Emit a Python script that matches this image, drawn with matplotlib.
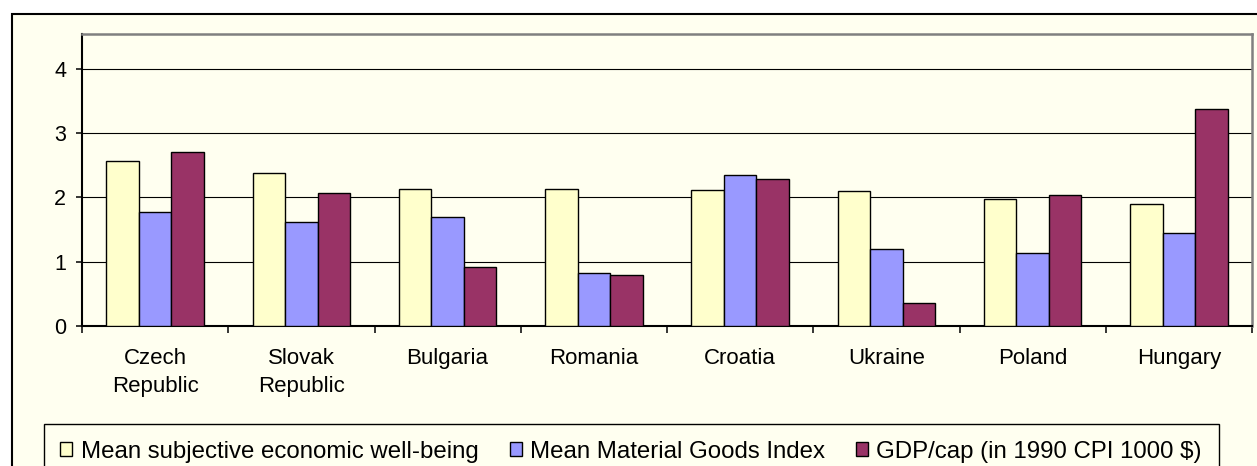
import matplotlib.pyplot as plt
from matplotlib.patches import Rectangle, Patch
import numpy as np

plt.rcParams['font.family'] = ['Liberation Sans', 'DejaVu Sans']

# ---- data ----
countries = ["Czech\nRepublic", "Slovak\nRepublic", "Bulgaria", "Romania",
             "Croatia", "Ukraine", "Poland", "Hungary"]
wellbeing = [2.57, 2.38, 2.13, 2.13, 2.11, 2.10, 1.97, 1.89]
material = [1.77, 1.61, 1.70, 0.83, 2.35, 1.20, 1.14, 1.45]
gdp = [2.70, 2.07, 0.92, 0.80, 2.29, 0.36, 2.04, 3.38]

series = [wellbeing, material, gdp]
names = ["Mean subjective economic well-being",
         "Mean Material Goods Index",
         "GDP/cap (in 1990 CPI 1000 $)"]
cols = ["#FFFFCC", "#9999FF", "#993366"]

cream = "#FFFFF0"
W, H = 1257, 466

fig = plt.figure(figsize=(W / 100, H / 100), dpi=100)
fig.patch.set_facecolor("white")

# outer chart frame (cut off at right and bottom)
fig.add_artist(Rectangle((12 / W, -0.1), 1.2, 1 - 14 / H + 0.1,
                         transform=fig.transFigure, facecolor=cream,
                         edgecolor="black", linewidth=1.5, zorder=0))

ax = fig.add_axes([82 / W, 1 - 326 / H, 1170 / W, 292 / H])
ax.set_facecolor(cream)

x = np.arange(len(countries))
bw = 1 / 4.5
for i in range(3):
    ax.bar(x + (i - 1) * bw, series[i], width=bw, color=cols[i],
           edgecolor="black", linewidth=1.0, zorder=3)

ax.set_xlim(-0.5, len(countries) - 0.5)
ax.set_ylim(0, 4.54)
ax.set_yticks([0, 1, 2, 3, 4])
ax.set_yticklabels(["0", "1", "2", "3", "4"], fontsize=15.5)
ax.yaxis.grid(True, color="black", linewidth=0.8)
ax.set_axisbelow(True)

ax.set_xticks(x)
ax.set_xticklabels(countries, fontsize=16, linespacing=1.45)
ax.set_xticks(np.arange(-0.5, len(countries)), minor=True)
ax.tick_params(axis="x", which="major", length=0, pad=16)
ax.tick_params(axis="x", which="minor", length=5, width=1.1, direction="out")
ax.tick_params(axis="y", length=4.5, width=1.1, direction="out", pad=7)

for s in ["left", "bottom"]:
    ax.spines[s].set_color("black")
    ax.spines[s].set_linewidth(1.5)
for s in ["top", "right"]:
    ax.spines[s].set_color("#808080")
    ax.spines[s].set_linewidth(1.8)

handles = [Patch(facecolor=cols[i], edgecolor="black", linewidth=1) for i in range(3)]
leg = fig.legend(handles, names, ncol=3, loc="upper left",
                 bbox_to_anchor=(43.5 / W, 1 - 424 / H), borderaxespad=0,
                 fontsize=17.25, frameon=True, fancybox=False,
                 handlelength=0.5, handleheight=0.5, handletextpad=0.35,
                 columnspacing=1.3, borderpad=0.7)
leg.get_frame().set_edgecolor("black")
leg.get_frame().set_facecolor(cream)
leg.get_frame().set_linewidth(1.0)
leg.get_frame().set_alpha(1)

fig.savefig("out.png", dpi=100)
